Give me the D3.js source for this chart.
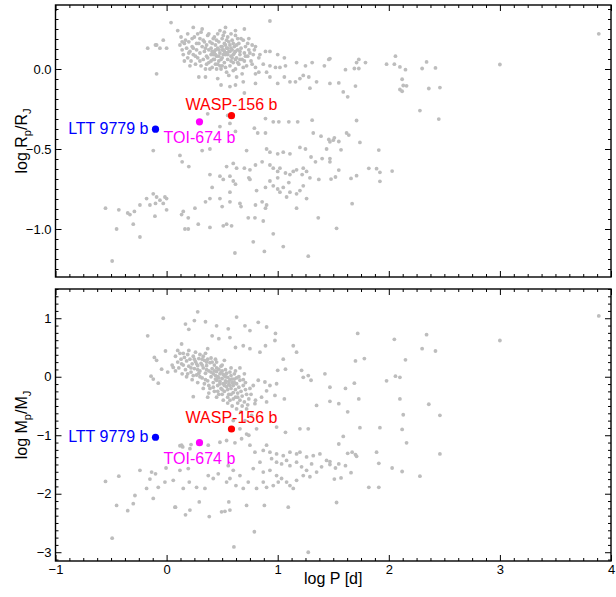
<!DOCTYPE html>
<html><head><meta charset="utf-8">
<script src="https://cdn.jsdelivr.net/npm/d3@7"></script>
<style>body{margin:0;background:#fff} text{font-family:"Liberation Sans",Arial,Helvetica,sans-serif}</style>
</head><body><svg id="c" width="616" height="597"></svg>
<script>
// ---- DATA ----
const xMajorTicks = [-1, 0, 1, 2, 3, 4];
const radiusMajorTicks = [0.0, -0.5, -1.0];
const massMajorTicks = [1, 0, -1, -2, -3];

// [log P, log Rp/RJ]
const radiusData = [
[-0.55,-0.87],[-0.49,-1.20],[-0.45,-1.00],[-0.43,-0.88],[-0.35,-0.90],
[0.04,0.29],[0.93,0.30],[0.10,0.24],[0.24,0.26],[0.31,0.23],[0.53,0.26],[0.62,0.24],[0.70,0.25],[0.74,0.19],[0.80,0.14],
[-0.03,0.18],[-0.09,0.15],[-0.17,0.13],[-0.06,0.13],[0.0,0.13],[-0.09,-0.03],[-0.12,-0.51],[-0.10,0.15],
[0.12,0.15],[0.14,0.12],[0.16,0.16],[0.15,0.09],[0.18,0.13],[0.19,0.07],[0.2,0.17],[0.21,0.11],[0.22,0.05],[0.23,0.14],
[0.24,0.09],[0.25,0.2],[0.26,0.03],[0.27,0.12],[0.28,0.07],[0.29,0.16],[0.3,0.1],[0.31,0.02],[0.32,0.14],[0.33,0.18],
[0.33,0.06],[0.34,0.11],[0.35,0.0],[0.36,0.15],[0.36,0.08],[0.37,0.21],[0.38,0.12],[0.38,0.04],[0.39,0.17],[0.4,0.09],
[0.4,0.13],[0.41,0.01],[0.42,0.19],[0.42,0.06],[0.43,0.11],[0.44,0.15],[0.44,0.03],[0.45,0.08],[0.46,0.13],[0.46,0.22],
[0.47,0.05],[0.47,0.17],[0.48,0.1],[0.49,0.14],[0.49,0.0],[0.5,0.07],[0.5,0.19],[0.51,0.12],[0.52,0.04],[0.52,0.16],
[0.53,0.09],[0.54,0.13],[0.54,-0.02],[0.55,0.2],[0.55,0.06],[0.56,0.11],[0.57,0.15],[0.57,0.02],[0.58,0.08],[0.59,0.18],
[0.59,0.12],[0.6,0.04],[0.61,0.1],[0.61,0.14],[0.62,0.0],[0.62,0.21],[0.63,0.07],[0.64,0.12],[0.65,0.16],[0.65,0.03],
[0.66,0.09],[0.67,0.13],[0.68,-0.03],[0.68,0.06],[0.69,0.18],[0.7,0.1],[0.71,0.14],[0.72,0.02],[0.73,0.08],[0.74,0.12],
[0.76,0.05],[0.77,0.15],[0.78,0.09],[0.8,0.01],[0.45,0.0],[0.5,0.02],[0.56,-0.04],[0.6,-0.01],[0.63,-0.05],[0.43,0.2],
[0.52,0.23],[0.58,0.22],[0.48,0.24],[0.4,0.05],[0.35,0.13],[0.3,0.19],[0.27,0.16],[0.24,0.13],[0.2,0.1],[0.17,0.18],
[0.14,0.17],[0.53,0.15],[0.47,0.12],[0.44,0.09],[0.51,0.09],[0.55,0.13],[0.58,0.05],[0.62,0.11],[0.66,0.06],[0.7,0.05],
[0.41,0.16],[0.37,0.07],[0.49,0.06],[0.54,0.18],[0.6,0.16],[0.64,0.19],[0.46,0.03],[0.39,0.0],
[0.13,0.2],[0.16,0.05],[0.19,0.22],[0.21,0.02],[0.23,0.19],[0.26,0.08],[0.28,0.22],[0.3,0.05],[0.32,0.25],[0.34,0.17],
[0.36,0.03],[0.38,0.22],[0.41,0.11],[0.43,0.06],[0.45,0.18],[0.48,0.02],[0.5,0.14],[0.51,0.21],[0.53,0.01],[0.56,0.17],
[0.58,0.13],[0.6,0.09],[0.63,0.15],[0.64,0.04],[0.67,0.19],[0.69,0.01],[0.71,0.08],[0.73,0.16],[0.75,0.1],[0.77,0.03],
[0.79,0.12],[0.42,0.09],[0.47,0.08],[0.52,0.11],[0.55,0.09],[0.57,0.11],[0.59,0.07],[0.62,0.06],[0.66,0.11],[0.44,0.12],
[0.5,0.12],[0.54,0.1],
[0.84,0.09],[0.89,0.11],[0.93,0.11],[1.0,0.09],[1.06,0.07],[0.83,0.07],[0.87,0.03],[0.93,0.02],[0.98,0.01],[1.02,0.01],
[1.07,0.02],[1.17,0.04],[1.25,0.02],[1.31,0.04],[1.42,0.02],[1.46,0.06],[0.90,-0.02],[0.83,-0.02],[0.80,-0.03],
[0.29,-0.05],[0.35,-0.05],[0.46,-0.06],[0.49,-0.10],[0.57,-0.11],[0.62,-0.10],[0.69,-0.08],[0.70,-0.15],[0.80,-0.09],
[0.93,-0.05],[1.0,-0.09],[1.06,-0.05],[1.11,-0.08],[1.16,-0.08],[1.2,-0.06],[1.23,-0.04],[1.28,-0.05],[1.29,-0.12],[1.35,-0.08],
[0.37,-0.28],[0.55,-0.29],[0.57,-0.34],[0.48,-0.36],[0.62,-0.39],[0.89,-0.31],[0.96,-0.33],[1.01,-0.33],[1.1,-0.33],
[1.18,-0.33],[1.31,-0.32],[1.32,-0.40],[1.39,-0.42],[1.46,-0.44],[0.89,-0.40],[0.82,-0.40],[0.79,-0.37],[0.72,-0.51],
[0.9,-0.50],[0.93,-0.52],[1.0,-0.53],[1.05,-0.52],[1.11,-0.53],[1.2,-0.49],[1.25,-0.50],[1.3,-0.55],[1.34,-0.58],
[1.44,-0.50],[1.4,-0.56],[0.12,-0.54],[0.14,-0.58],[0.2,-0.61],[0.39,-0.50],[0.32,-0.51],[0.54,-0.61],[0.6,-0.59],[0.63,-0.62],
[0.7,-0.62],[0.75,-0.63],[0.8,-0.60],[0.86,-0.58],[0.93,-0.60],[0.96,-0.62],[1.0,-0.64],[1.02,-0.62],[1.07,-0.65],
[1.11,-0.66],[1.14,-0.64],[1.17,-0.63],[1.23,-0.62],[1.22,-0.66],[1.26,-0.64],[1.29,-0.68],[1.37,-0.69],[1.47,-0.58],
[0.39,-0.66],[0.48,-0.67],[0.51,-0.69],[0.57,-0.67],[0.6,-0.70],[0.62,-0.72],[0.41,-0.74],[0.57,-0.77],[0.74,-0.68],
[0.75,-0.69],[0.81,-0.76],[0.89,-0.74],[0.93,-0.70],[0.96,-0.73],[1.0,-0.75],[1.05,-0.74],[1.1,-0.71],[1.0,-0.68],
[1.02,-0.77],[1.08,-0.80],[1.11,-0.77],[1.17,-0.78],[1.2,-0.76],[1.23,-0.73],[1.26,-0.81],[0.86,-0.83],[0.8,-0.85],
[0.89,-0.87],[0.9,-0.85],[0.66,-0.84],[0.67,-0.86],[0.57,-0.83],[0.5,-0.86],[0.48,-0.81],[0.39,-0.81],[0.35,-0.83],
[-0.18,-0.81],[-0.15,-0.85],[-0.12,-0.78],[-0.09,-0.80],[-0.06,-0.82],[-0.015,-0.80],[0.0,-0.81],[-0.03,-0.84],
[-0.10,-0.84],[-0.24,-0.85],[-0.29,-0.89],[-0.33,-0.91],[-0.30,-0.97],[-0.105,-0.92],[0.0,-0.88],[0.15,-0.89],
[0.195,-0.93],[0.135,-0.91],[0.255,-0.87],[0.285,-0.97],[0.195,-1.0],[0.165,-1.0],[0.39,-0.99],[0.51,-0.98],
[0.54,-0.97],[0.585,-0.98],[0.735,-0.93],[0.795,-0.93],[0.87,-0.95],[0.96,-1.03],[0.78,-1.08],[1.05,-1.11],
[1.17,-0.87],[1.365,-0.93],[1.275,-1.17],[0.88,-1.14],[0.615,-1.15],[-0.24,-1.05],
[1.47,0.065],[1.61,-0.004],[1.69,0.003],[1.71,0.04],[1.73,0.06],[1.73,0.003],[1.79,0.04],[1.98,0.03],[2.05,0.03],
[2.06,0.08],[2.1,0.013],[2.15,-0.004],[2.3,0.003],[2.34,0.044],[2.42,0.007],[3.0,0.028],[1.55,-0.087],[1.59,-0.143],
[1.63,-0.174],[1.70,-0.107],[1.47,-0.09],[2.12,-0.064],[2.13,-0.103],[2.16,-0.105],[2.1,-0.128],[2.12,-0.139],
[2.36,-0.122],[2.46,-0.116],[2.28,-0.26],[2.45,-0.313],[1.71,-0.322],[1.62,-0.40],[1.64,-0.413],[1.51,-0.43],
[1.5,-0.445],[1.55,-0.453],[1.47,-0.455],[1.74,-0.459],[1.57,-0.505],[1.91,-0.507],[1.47,-0.56],[1.55,-0.632],
[1.82,-0.621],[1.89,-0.623],[1.92,-0.646],[2.03,-0.638],[1.52,-0.675],[1.48,-0.688],[1.66,-0.684],[1.71,-0.667],
[1.92,-0.702],[1.67,-0.842],[1.53,-0.996],[3.89,0.22]
];

// [log P, log Mp/MJ]
const massData = [
[-0.55,-1.79],[-0.49,-2.76],[-0.45,-2.20],[-0.43,-1.70],[-0.35,-2.29],
[0.28,1.11],[-0.03,1.0],[0.25,0.96],[0.35,0.94],[0.63,1.02],[-0.17,0.70],[0.17,0.90],[0.2,0.81],[0.45,0.87],[0.555,0.82],
[0.705,0.87],[0.75,0.79],[0.825,0.93],[0.9,0.85],[0.98,0.74],[0.975,0.62],[0.89,0.53],[0.84,0.42],[0.75,0.48],[0.69,0.53],
[0.62,0.50],[0.41,0.70],[0.47,0.65],[0.57,0.67],[0.37,0.48],[0.135,0.56],[-0.01,0.44],[-0.11,0.33],[-0.09,0.28],
[-0.045,0.13],[0.01,0.08],[-0.12,-0.04],[-0.14,0.01],[0.06,0.16],[-0.075,-0.11],[0.135,0.22],[0.24,-0.34],[0.37,-0.35],
[0.08,0.35],[0.1,0.25],[0.12,0.4],[0.13,0.3],[0.15,0.2],[0.16,0.33],[0.17,0.12],[0.18,0.27],[0.19,0.38],[0.2,0.18],
[0.21,0.3],[0.22,0.08],[0.23,0.22],[0.24,0.35],[0.25,0.14],[0.26,0.26],[0.27,0.03],[0.28,0.19],[0.29,0.31],[0.3,0.1],
[0.31,0.23],[0.32,-0.02],[0.33,0.15],[0.34,0.28],[0.35,0.06],[0.36,0.19],[0.37,-0.07],[0.38,0.1],[0.39,0.24],[0.4,0.0],
[0.41,0.14],[0.42,-0.1],[0.42,0.05],[0.43,0.2],[0.44,-0.04],[0.45,0.09],[0.46,-0.15],[0.46,0.0],[0.47,0.13],[0.48,-0.08],
[0.48,0.05],[0.49,-0.2],[0.5,-0.03],[0.5,0.1],[0.51,-0.12],[0.52,0.02],[0.52,-0.25],[0.53,-0.07],[0.54,-0.17],[0.54,0.06],
[0.55,-0.01],[0.56,-0.13],[0.56,-0.3],[0.57,-0.05],[0.58,-0.2],[0.58,0.02],[0.59,-0.1],[0.6,-0.27],[0.6,-0.15],[0.61,-0.04],
[0.62,-0.22],[0.62,-0.35],[0.63,-0.12],[0.64,-0.28],[0.65,-0.18],[0.66,-0.4],[0.66,-0.06],[0.67,-0.25],[0.68,-0.33],
[0.69,-0.15],[0.7,-0.43],[0.71,-0.22],[0.72,-0.3],[0.74,-0.38],[0.75,-0.2],[0.43,0.1],[0.47,-0.02],[0.51,0.04],[0.53,-0.1],
[0.55,-0.22],[0.57,-0.15],[0.59,-0.04],[0.45,-0.06],[0.49,0.08],[0.53,0.0],[0.56,-0.08],[0.52,-0.15],[0.48,-0.12],
[0.44,0.02],[0.4,0.08],[0.36,0.12],[0.32,0.2],[0.28,0.12],[0.25,0.3],[0.22,0.15],[0.61,-0.1],[0.63,-0.02],[0.58,-0.3],
[0.64,-0.45],[0.6,-0.38],[0.68,-0.5],[0.55,-0.35],[0.5,-0.3],[0.46,-0.25],[0.38,-0.15],[0.35,-0.05],[0.3,0.38],[0.35,0.4],
[0.4,0.32],[0.45,0.25],[0.5,0.2],
[0.05,0.2],[0.08,0.1],[0.1,0.45],[0.14,0.05],[0.18,0.0],[0.2,0.45],[0.23,-0.05],[0.26,0.42],[0.28,-0.1],[0.3,0.0],
[0.33,0.35],[0.34,-0.12],[0.37,0.3],[0.39,-0.2],[0.41,0.25],[0.43,-0.25],[0.45,0.15],[0.47,-0.3],[0.49,0.18],[0.51,-0.4],
[0.53,0.12],[0.55,-0.45],[0.57,0.08],[0.59,-0.5],[0.61,0.05],[0.63,-0.55],[0.65,0.0],[0.67,-0.6],[0.69,-0.05],[0.71,-0.1],
[0.73,-0.48],[0.76,-0.3],[0.78,-0.15],[0.8,-0.4],[0.32,0.3],[0.27,0.22],[0.36,0.25],[0.44,0.3],[0.52,0.28],[0.58,0.15],
[0.62,0.1],[0.66,0.15],[0.7,0.05],[0.15,0.4],[0.11,0.15],[0.19,0.05],[0.24,0.02],[0.29,0.06],[0.42,-0.18],[0.5,-0.22],
[0.57,-0.4],[0.64,-0.35],[0.45,-0.35],[0.38,-0.28],[0.33,-0.2],
[1.05,0.30],[1.0,0.11],[1.07,0.13],[1.14,0.53],[1.17,0.42],[1.215,0.11],[1.23,-0.01],[1.275,0.02],[1.30,-0.06],[1.425,0.05],
[1.35,-0.49],[1.275,-0.89],[0.825,-0.06],[0.885,-0.09],[0.93,-0.15],[0.99,-0.12],[0.9,-0.24],[0.975,-0.32],[1.06,-0.38],
[0.855,-0.35],[0.795,-0.46],[0.9,-0.43],[0.72,-0.55],[0.765,-0.66],[0.705,-0.75],[0.6,-0.75],[0.66,-0.89],[0.74,-1.0],
[0.81,-0.89],[0.99,-0.86],[1.07,-0.95],[1.2,-0.89],[0.72,-0.98],
[0.48,-1.12],[0.54,-1.09],[0.615,-1.13],[0.675,-1.06],[0.75,-1.17],[0.9,-1.17],[0.135,-1.17],[0.21,-1.23],[0.375,-1.17],
[0.795,-1.29],[0.87,-1.26],[0.93,-1.29],[0.99,-1.32],[1.05,-1.35],[1.11,-1.29],[1.17,-1.32],[1.2,-1.29],[1.26,-1.37],
[1.32,-1.35],[1.38,-1.32],[1.44,-1.43],[0.945,-1.40],[0.99,-1.46],[1.035,-1.49],[1.08,-1.43],[1.11,-1.52],[1.17,-1.46],
[1.215,-1.54],[1.26,-1.60],[1.305,-1.49],[1.35,-1.63],[1.395,-1.54],[0.84,-1.46],[0.78,-1.57],[0.87,-1.63],[0.93,-1.60],
[0.99,-1.69],[1.035,-1.74],[1.08,-1.80],[1.11,-1.86],[1.14,-1.91],[1.005,-1.80],[0.96,-1.86],[1.17,-1.77],[1.23,-1.69],
[1.29,-1.71],[0.9,-1.89],[0.87,-1.80],[0.81,-1.91],[0.735,-1.80],[0.69,-1.91],[0.624,-1.86],[0.57,-1.74],[0.555,-1.52],
[0.6,-1.60],[0.54,-1.80],[0.66,-1.69],[0.465,-1.66],[0.42,-1.74],[0.375,-1.69],[0.345,-1.91],[0.27,-1.89],[0.204,-1.80],
[0.15,-1.91],[0.12,-1.60],[0.195,-1.57],[0.06,-1.77],[-0.015,-1.80],[-0.075,-1.89],[-0.135,-1.63],[-0.18,-1.91],
[-0.24,-1.60],[-0.285,-2.03],[-0.30,-2.17],[-0.12,-2.08],[0.075,-2.23],[0.21,-2.28],[0.294,-2.14],[0.384,-2.39],
[0.495,-2.31],[0.525,-2.30],[0.57,-2.28],[0.56,-2.14],[0.72,-2.20],[0.88,-2.20],[1.095,-2.23],[0.79,-2.65],[0.606,-2.91],
[1.275,-3.0],[0.12,-1.18],[0.145,-1.20],[0.22,-1.16],[-0.10,-1.66],[-0.15,-1.75],[-0.005,-1.56],[0.08,-2.23],[0.17,-2.36],
[1.72,0.74],[2.05,0.64],[2.34,0.72],[3.0,0.62],[2.30,0.48],[2.42,0.44],[1.70,0.27],[1.78,0.31],[2.15,0.29],[1.47,-0.18],
[1.61,-0.20],[1.69,-0.11],[1.98,-0.07],[2.06,0.01],[2.1,-0.01],[1.47,-0.42],[1.55,-0.46],[1.73,-0.38],[2.1,-0.38],
[2.36,-0.47],[1.63,-0.60],[2.13,-0.65],[2.46,-0.66],[1.74,-0.87],[1.92,-0.87],[2.12,-0.90],[1.59,-1.02],[1.55,-1.15],
[2.16,-1.13],[1.47,-1.45],[1.47,-1.50],[1.63,-1.31],[1.67,-1.29],[1.70,-1.33],[1.71,-1.36],[1.89,-1.29],[2.46,-1.32],
[1.55,-1.49],[1.61,-1.52],[1.52,-1.56],[1.51,-1.75],[1.57,-1.73],[1.66,-1.64],[1.91,-1.48],[2.03,-1.56],[2.12,-1.62],
[2.28,-1.70],[1.82,-1.89],[1.91,-1.89],[1.53,-2.15],[3.89,1.04]
];

const planets = ["LTT 9779 b", "TOI-674 b", "WASP-156 b"];
const planetLogP = [-0.10, 0.296, 0.584];
const planetLogR = [-0.376, -0.33, -0.292];
const planetLogM = [-1.034, -1.127, -0.893];
const planetColors = ["#0000ff", "#ff00ff", "#ff0000"];

// ---- DRAWING ----
const svg = d3.select("#c");
const x = d3.scaleLinear().domain([-1, 4]).range([55.5, 611]);
const yR = d3.scaleLinear().domain([-1.3, 0.4]).range([277, 5]);
const yM = d3.scaleLinear().domain([-3.15, 1.5]).range([561, 289]);

const xMinor = d3.range(-8, 33).map(i => i / 8).filter(v => !xMajorTicks.includes(v));

function minorTicks(scale, step, majors) {
  const [lo, hi] = scale.domain();
  const out = [];
  for (let i = Math.ceil(lo / step); i * step <= hi + 1e-9; i++) {
    const v = +(i * step).toFixed(6);
    if (!majors.some(m => Math.abs(m - v) < 1e-9)) out.push(v);
  }
  return out;
}

function panel(yScale, yMajor, yStep, yFmt, showX, data, yKey, ylabelMain) {
  const g = svg.append("g");
  const [y0, y1] = yScale.range();
  const left = x.range()[0], right = x.range()[1];
  const yMinor = minorTicks(yScale, yStep, yMajor);

  function ax(gen, tr, vals, size, fmt) {
    const a = g.append("g").attr("transform", tr)
      .call(gen.tickValues(vals).tickSizeInner(size).tickSizeOuter(0).tickPadding(4).tickFormat(fmt));
    a.select(".domain").remove();
    a.selectAll("line").attr("stroke", "#000").attr("stroke-width", 1);
    a.selectAll("text").attr("font-size", 13).attr("fill", "#000")
      .attr("font-family", '"Liberation Sans",Arial,sans-serif');
    return a;
  }
  const none = () => "";
  ax(d3.axisBottom(x), `translate(0,${y0})`, xMajorTicks, -6, showX ? d3.format("d") : none);
  ax(d3.axisBottom(x), `translate(0,${y0})`, xMinor, -3, none);
  ax(d3.axisTop(x), `translate(0,${y1})`, xMajorTicks, -6, none);
  ax(d3.axisTop(x), `translate(0,${y1})`, xMinor, -3, none);
  ax(d3.axisLeft(yScale), `translate(${left},0)`, yMajor, -6, yFmt);
  ax(d3.axisLeft(yScale), `translate(${left},0)`, yMinor, -3, none);
  ax(d3.axisRight(yScale), `translate(${right},0)`, yMajor, -6, none);
  ax(d3.axisRight(yScale), `translate(${right},0)`, yMinor, -3, none);

  g.append("rect").attr("x", left).attr("y", y1).attr("width", right - left).attr("height", y0 - y1)
    .attr("fill", "none").attr("stroke", "#000").attr("stroke-width", 1.4);

  g.append("g").selectAll("circle").data(data).join("circle")
    .attr("cx", d => x(d[0])).attr("cy", d => yScale(d[1])).attr("r", 1.9).attr("fill", "#bdbdbd");

  const vals = yKey === "R" ? planetLogR : planetLogM;
  planets.forEach((name, i) => {
    const px = x(planetLogP[i]), py = yScale(vals[i]);
    g.append("circle").attr("cx", px).attr("cy", py).attr("r", 3.6).attr("fill", planetColors[i]);
    let tx = px, ty = py, anchor = "middle";
    if (i === 0) { tx = px - 7; ty = py + 4.5; anchor = "end"; }
    else if (i === 1) { ty = py + 21; }
    else { ty = py - 6; }
    g.append("text").attr("x", tx).attr("y", ty).attr("text-anchor", anchor)
      .attr("font-size", 16).attr("fill", planetColors[i]).text(name);
  });

  const cy = (y0 + y1) / 2;
  const t = g.append("text").attr("transform", `translate(27,${cy}) rotate(-90)`)
    .attr("text-anchor", "middle").attr("font-size", 16).attr("fill", "#000");
  t.append("tspan").text("log " + ylabelMain);
  t.append("tspan").attr("font-size", 11).attr("dy", 4).text("p");
  t.append("tspan").attr("dy", -4).text("/" + ylabelMain);
  t.append("tspan").attr("font-size", 11).attr("dy", 4).text("J");
}

panel(yR, radiusMajorTicks, 0.0625, d3.format(".1f"), false, radiusData, "R", "R");
panel(yM, massMajorTicks, 0.125, d3.format("d"), true, massData, "M", "M");

svg.append("text").attr("x", (x.range()[0] + x.range()[1]) / 2).attr("y", 584)
  .attr("text-anchor", "middle").attr("font-size", 16).attr("fill", "#000").text("log P [d]");
</script></body></html>
